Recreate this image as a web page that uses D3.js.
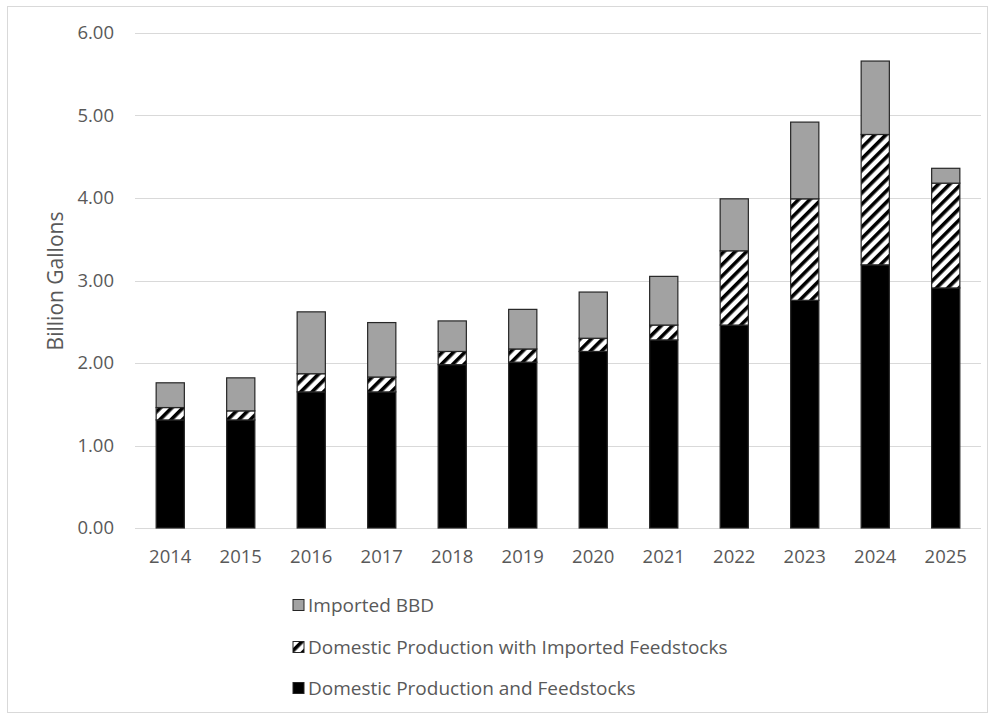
<!DOCTYPE html>
<html>
<head>
<meta charset="utf-8">
<script src="https://cdn.jsdelivr.net/npm/d3@7"></script>
<style>
  html, body { margin: 0; padding: 0; background: #fff; }
  svg { display: block; }
  text { font-family: "Open Sans", "Noto Sans", sans-serif; fill: #595959; }
</style>
</head>
<body>
<svg id="chart" width="992" height="717"></svg>
<script>
const years = ["2014","2015","2016","2017","2018","2019","2020","2021","2022","2023","2024","2025"];
const domesticProduction = [1.31,1.31,1.65,1.65,1.98,2.01,2.14,2.28,2.46,2.76,3.19,2.91];
const domesticImportedFeed = [0.15,0.11,0.22,0.18,0.16,0.16,0.16,0.18,0.90,1.23,1.58,1.27];
const importedBBD = [0.30,0.40,0.75,0.66,0.37,0.48,0.56,0.59,0.63,0.93,0.89,0.18];
const yTicks = [0,1,2,3,4,5,6];
const seriesNames = ["Domestic Production and Feedstocks","Domestic Production with Imported Feedstocks","Imported BBD"];

const svg = d3.select("#chart");
const defs = svg.append("defs");
const pat = defs.append("pattern")
  .attr("id","hatch").attr("patternUnits","userSpaceOnUse")
  .attr("width",8).attr("height",8)
  .attr("patternTransform","rotate(45)");
pat.append("rect").attr("width",8).attr("height",8).attr("fill","#fff");
pat.append("rect").attr("width",3.6).attr("height",8).attr("fill","#000");

// outer border
svg.append("rect").attr("x",7.5).attr("y",6.5).attr("width",980).attr("height",706)
  .attr("fill","none").attr("stroke","#d9d9d9").attr("stroke-width",1);

const x = d3.scaleBand().domain(years).range([135,981]).paddingInner(0.6).paddingOuter(0.3);
const y = d3.scaleLinear().domain([0,6]).range([528,33]);

// gridlines
svg.append("g").selectAll("line").data(yTicks).join("line")
  .attr("x1",135).attr("x2",981)
  .attr("y1",d=>Math.round(y(d))+0.5).attr("y2",d=>Math.round(y(d))+0.5)
  .attr("stroke","#d9d9d9").attr("stroke-width",1);

// y tick labels
svg.append("g").selectAll("text").data(yTicks).join("text")
  .attr("x",114).attr("y",d=>y(d)).attr("dy","0.35em")
  .attr("text-anchor","end").attr("font-size",18.5)
  .text(d=>d3.format(".2f")(d));

// x labels
svg.append("g").selectAll("text").data(years).join("text")
  .attr("x",d=>x(d)+x.bandwidth()/2).attr("y",563)
  .attr("text-anchor","middle").attr("font-size",18.5)
  .text(d=>d);

// y title
svg.append("text").attr("transform","translate(63,281) rotate(-90)")
  .attr("text-anchor","middle").attr("font-size",21)
  .text("Billion Gallons");

// stacked data
const table = years.map((yr,i)=>({year:yr, a:domesticProduction[i], b:domesticImportedFeed[i], c:importedBBD[i]}));
const stack = d3.stack().keys(["a","b","c"]);
const stacked = stack(table);
const fills = {a:"#000000", b:"url(#hatch)", c:"#a2a2a2"};

svg.append("g").selectAll("g").data(stacked).join("g")
  .attr("fill",d=>fills[d.key])
  .selectAll("rect").data(d=>d).join("rect")
  .attr("x",d=>x(d.data.year)).attr("width",x.bandwidth())
  .attr("y",d=>y(d[1])).attr("height",d=>y(d[0])-y(d[1]))
  .attr("stroke","#262626").attr("stroke-width",1.2);

// legend
const legendItems = [
  {name:seriesNames[2], fill:"#a2a2a2", y:605},
  {name:seriesNames[1], fill:"url(#hatch)", y:647},
  {name:seriesNames[0], fill:"#000000", y:688}
];
const lg = svg.append("g").selectAll("g").data(legendItems).join("g")
  .attr("transform",d=>`translate(0,${d.y})`);
lg.append("rect").attr("x",293).attr("y",-5.5).attr("width",11).attr("height",11)
  .attr("fill",d=>d.fill).attr("stroke","#262626").attr("stroke-width",1);
lg.append("text").attr("x",308).attr("y",0).attr("dy","0.35em")
  .attr("font-size",19).text(d=>d.name);
</script>
</body>
</html>
